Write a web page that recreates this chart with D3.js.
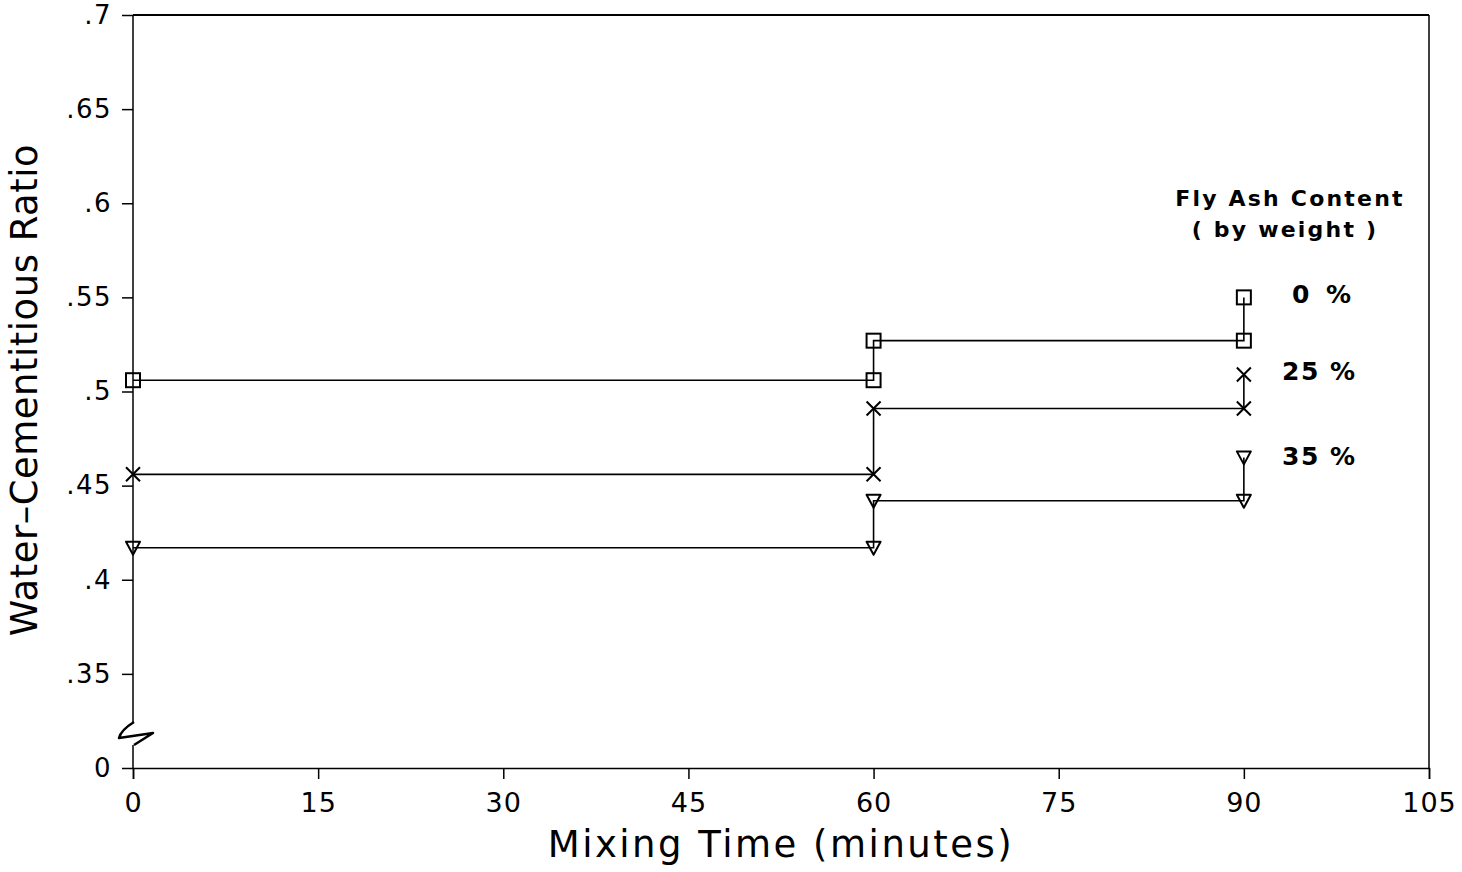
<!DOCTYPE html>
<html><head><meta charset="utf-8">
<script src="https://cdn.jsdelivr.net/npm/d3@7"></script>
<style>
body{margin:0;background:#fff;}
svg{display:block;}
text{font-family:"DejaVu Sans",sans-serif;fill:#000;}
</style></head>
<body><svg id="c" width="1462" height="872"></svg>
<script>
// ---- data ----
const xTicks = [0, 15, 30, 45, 60, 75, 90, 105];
const yTicks = [0.3, 0.35, 0.4, 0.45, 0.5, 0.55, 0.6, 0.65, 0.7];
const yTickLabels = ["0", ".35", ".4", ".45", ".5", ".55", ".6", ".65", ".7"];
const seriesNames = ["0 %", "25 %", "35 %"];
const seriesSymbols = ["square", "cross", "triangle"];
// step points: [mixing time, w/cm]
const series0 = [[0, 0.506], [60, 0.506], [60, 0.527], [90, 0.527], [90, 0.550]];
const series25 = [[0, 0.456], [60, 0.456], [60, 0.491], [90, 0.491], [90, 0.509]];
const series35 = [[0, 0.417], [60, 0.417], [60, 0.442], [90, 0.442], [90, 0.465]];
const allSeries = [series0, series25, series35];
const legendTitle = ["Fly Ash Content", "( by weight )"];
const xTitle = "Mixing Time (minutes)";
const yTitle = "Water\u2013Cementitious Ratio";

// ---- layout ----
const svg = d3.select("#c");
const L = 133, R = 1429, T = 15, B = 768;
const x = d3.scaleLinear().domain([0, 105]).range([L, R]);
const y = d3.scaleLinear().domain([0.3, 0.7]).range([B, T]);

// frame top / right
svg.append("line").attr("x1", L).attr("x2", R).attr("y1", T).attr("y2", T).attr("stroke", "#000").attr("stroke-width", 2);
svg.append("line").attr("x1", R).attr("x2", R).attr("y1", T).attr("y2", B).attr("stroke", "#000").attr("stroke-width", 1.5);

// x axis
const xAxis = svg.append("g").attr("transform", `translate(0,${B})`)
  .call(d3.axisBottom(x).tickValues(xTicks).tickSize(11).tickPadding(13).tickFormat(d3.format("d")));
xAxis.select(".domain").attr("stroke-width", 1.5);
xAxis.selectAll(".tick line").attr("stroke-width", 1.5);
xAxis.selectAll("text").attr("font-size", 27).attr("font-family", "DejaVu Sans")
  .attr("letter-spacing", 1).attr("dy", "0.75em");

// y axis
const yAxis = svg.append("g").attr("transform", `translate(${L},0)`)
  .call(d3.axisLeft(y).tickValues(yTicks).tickSize(11).tickPadding(10)
    .tickFormat((d, i) => yTickLabels[i]));
yAxis.select(".domain").remove();
yAxis.selectAll(".tick line").attr("stroke-width", 1.5);
yAxis.selectAll("text").attr("font-size", 26).attr("font-family", "DejaVu Sans").attr("letter-spacing", 1.5);

// y axis line with break
svg.append("line").attr("x1", L).attr("x2", L).attr("y1", T).attr("y2", 722).attr("stroke", "#000").attr("stroke-width", 1.5);
svg.append("line").attr("x1", L).attr("x2", L).attr("y1", 745).attr("y2", B).attr("stroke", "#000").attr("stroke-width", 1.5);
svg.append("path").attr("d", "M134,722 Q121,730 119,738 L153,733 L134,745")
  .attr("fill", "none").attr("stroke", "#000").attr("stroke-width", 2.5).attr("stroke-linejoin", "round");

// series lines
const line = d3.line().x(d => x(d[0])).y(d => y(d[1]));
allSeries.forEach(s => {
  svg.append("path").attr("d", line(s)).attr("fill", "none").attr("stroke", "#000").attr("stroke-width", 1.6);
});

// markers
function drawMarker(g, type, cx, cy) {
  if (type === "square") {
    g.append("rect").attr("x", cx - 7).attr("y", cy - 7).attr("width", 14).attr("height", 14)
      .attr("fill", "none").attr("stroke", "#000").attr("stroke-width", 2);
  } else if (type === "cross") {
    g.append("path").attr("d", `M${cx-7},${cy-7}L${cx+7},${cy+7}M${cx-7},${cy+7}L${cx+7},${cy-7}`)
      .attr("stroke", "#000").attr("stroke-width", 2);
  } else {
    g.append("path").attr("d", `M${cx-7},${cy-6}L${cx+7},${cy-6}L${cx},${cy+7}Z`)
      .attr("fill", "none").attr("stroke", "#000").attr("stroke-width", 2).attr("stroke-linejoin", "round");
  }
}
const mg = svg.append("g");
allSeries.forEach((s, i) => s.forEach(p => drawMarker(mg, seriesSymbols[i], x(p[0]), y(p[1]))));

// legend
svg.append("text").attr("x", 1290).attr("y", 206).attr("text-anchor", "middle")
  .attr("font-size", 22).attr("font-weight", "bold").attr("letter-spacing", 2.2).text(legendTitle[0]);
svg.append("text").attr("x", 1285).attr("y", 237).attr("text-anchor", "middle")
  .attr("font-size", 22).attr("font-weight", "bold").attr("letter-spacing", 2.2).text(legendTitle[1]);
const labelPos = [[1292, 303], [1282, 380], [1282, 465]];
seriesNames.forEach((n, i) => {
  svg.append("text").attr("x", labelPos[i][0]).attr("y", labelPos[i][1])
    .attr("font-size", 25).attr("font-weight", "bold").attr("letter-spacing", i === 0 ? 4 : 1.5).text(n);
});

// titles
svg.append("text").attr("x", 781).attr("y", 857).attr("text-anchor", "middle")
  .attr("font-size", 37).attr("letter-spacing", 2.5).text(xTitle);
svg.append("text").attr("transform", "translate(37,390) rotate(-90)").attr("text-anchor", "middle")
  .attr("font-size", 37).attr("letter-spacing", 0.5).text(yTitle);
</script></body></html>
